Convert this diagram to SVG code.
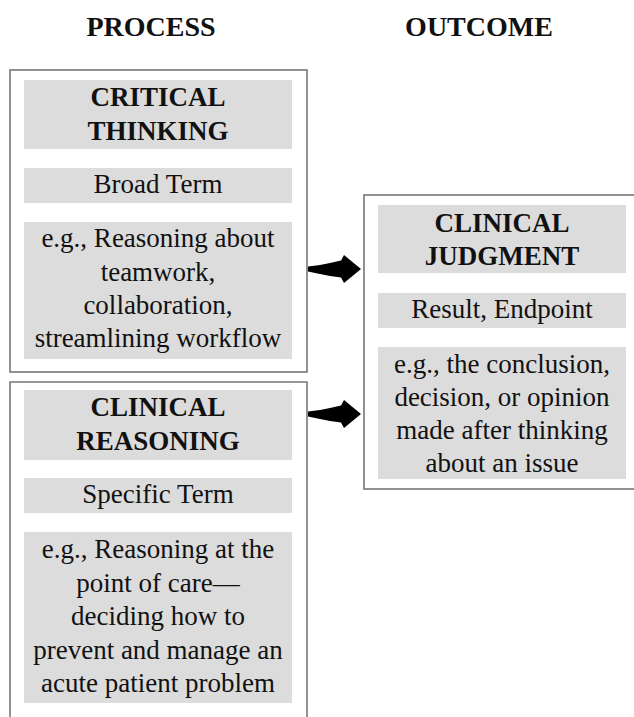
<svg xmlns="http://www.w3.org/2000/svg" width="634" height="717" viewBox="0 0 634 717">
<style>
.frame{fill:#fff;stroke:#777;stroke-width:1.6}
.band{fill:#dcdcdc}
text{font-family:"Liberation Serif","Times New Roman",serif;fill:#111;text-anchor:middle}
.hd{font-size:28px;font-weight:bold}
.tt{font-size:27px;font-weight:bold}
.tx{font-size:27px}
.arrow{fill:#000}
</style>
<rect width="634" height="717" fill="#fff"/>
<g id="headers">
<text class="hd" x="151" y="36">PROCESS</text>
<text class="hd" x="479" y="36">OUTCOME</text>
</g>
<g id="critical-thinking">
<rect class="frame" x="10" y="70" width="297" height="302"/>
<rect class="band" x="24" y="80" width="268" height="69"/>
<text class="tt" x="158" y="106">CRITICAL</text>
<text class="tt" x="158" y="140">THINKING</text>
<rect class="band" x="24" y="168" width="268" height="35"/>
<text class="tx" x="158" y="193">Broad Term</text>
<rect class="band" x="24" y="222" width="268" height="137"/>
<text class="tx" x="158" y="247">e.g., Reasoning about</text>
<text class="tx" x="158" y="280.5">teamwork,</text>
<text class="tx" x="158" y="314">collaboration,</text>
<text class="tx" x="158" y="347">streamlining workflow</text>
</g>
<g id="clinical-reasoning">
<path class="frame" d="M10,730 V382 H307 V730"/>
<rect class="band" x="24" y="390" width="268" height="70"/>
<text class="tt" x="158" y="416">CLINICAL</text>
<text class="tt" x="158" y="450">REASONING</text>
<rect class="band" x="24" y="478" width="268" height="35"/>
<text class="tx" x="158" y="503">Specific Term</text>
<rect class="band" x="24" y="532" width="268" height="171"/>
<text class="tx" x="158" y="558">e.g., Reasoning at the</text>
<text class="tx" x="158" y="591.5">point of care—</text>
<text class="tx" x="158" y="625">deciding how to</text>
<text class="tx" x="158" y="658.5">prevent and manage an</text>
<text class="tx" x="158" y="692">acute patient problem</text>
</g>
<g id="clinical-judgment">
<rect class="frame" x="364" y="195" width="280" height="294"/>
<rect class="band" x="378" y="205" width="248" height="68"/>
<text class="tt" x="502" y="232">CLINICAL</text>
<text class="tt" x="502" y="265">JUDGMENT</text>
<rect class="band" x="378" y="293" width="248" height="35"/>
<text class="tx" x="502" y="318">Result, Endpoint</text>
<rect class="band" x="378" y="347" width="248" height="132"/>
<text class="tx" x="502" y="373">e.g., the conclusion,</text>
<text class="tx" x="502" y="406">decision, or opinion</text>
<text class="tx" x="502" y="439">made after thinking</text>
<text class="tx" x="502" y="472">about an issue</text>
</g>
<g id="connectors">
<defs>
<path id="fat-arrow" d="M0,-2.5 L12,-4 L22,-6 L33,-8.5 L36,-14 L53,0 L36,14 L33,8.5 L22,7 L12,5 L0,2.5 Z"/>
</defs>
<use class="arrow" href="#fat-arrow" x="308" y="269"/>
<use class="arrow" href="#fat-arrow" x="308" y="414"/>
</g>
</svg>
